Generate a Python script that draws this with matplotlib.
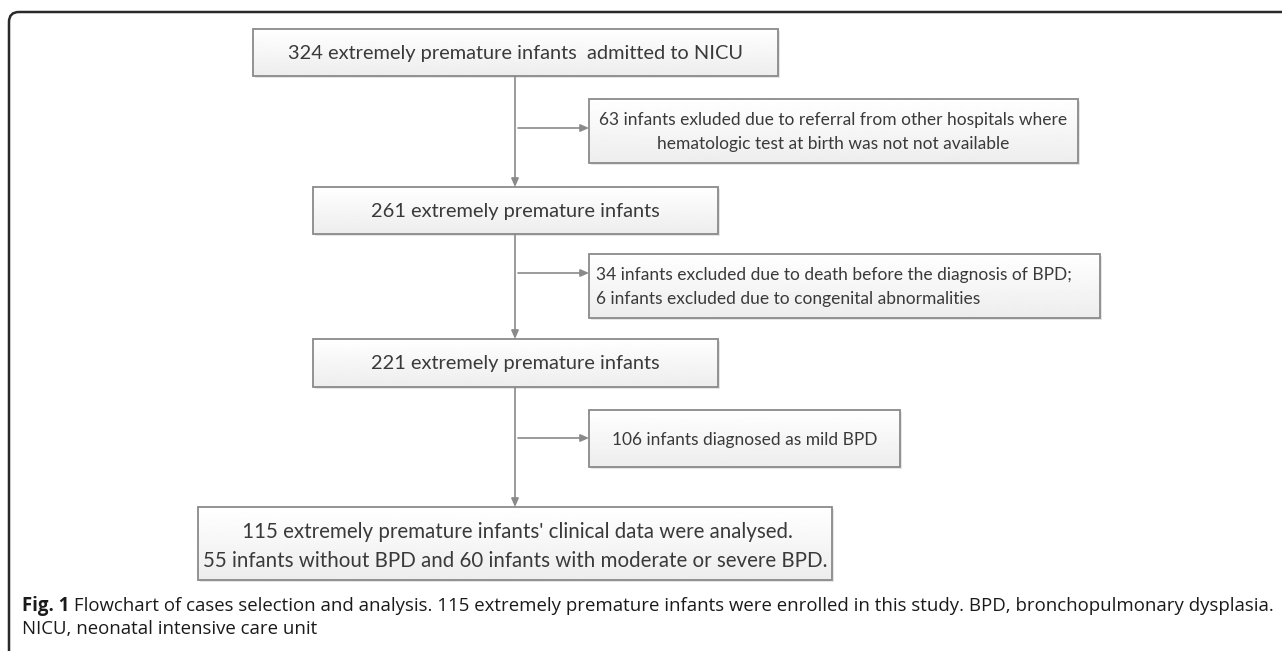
import numpy as np
import matplotlib
matplotlib.use('Agg')
import matplotlib.pyplot as plt
from matplotlib.patches import Rectangle, FancyBboxPatch

# flowchart texts
main_labels = ['324 extremely premature infants  admitted to NICU',
               '261 extremely premature infants',
               '221 extremely premature infants']
side_labels = ['63 infants exluded due to referral from other hospitals where\nhematologic test at birth was not not available',
               '34 infants excluded due to death before the diagnosis of BPD;\n6 infants excluded due to congenital abnormalities',
               '106 infants diagnosed as mild BPD']
side_align = ['center', 'left', 'center']
final_label = (" 115 extremely premature infants' clinical data were analysed.\n"
               "55 infants without BPD and 60 infants with moderate or severe BPD.")
caption_bold = 'Fig. 1'
caption_rest = (' Flowchart of cases selection and analysis. 115 extremely premature infants were '
                'enrolled in this study. BPD, bronchopulmonary dysplasia.')
caption_line2 = 'NICU, neonatal intensive care unit'

# layout in pixels (x0, x1, y0, y1)
main_boxes = [(253, 778, 29, 76), (313, 718, 187, 234), (313, 718, 339, 387)]
side_boxes = [(589, 1078, 99, 163), (589, 1100, 254, 318), (589, 900, 410, 467)]
side_arrow_y = [128, 273, 438]
final_box = (198, 832, 507, 580)
xc = 515

W, H = 1282, 651
fig = plt.figure(figsize=(W / 100, H / 100), dpi=100)
ax = fig.add_axes([0, 0, 1, 1])
ax.set_xlim(0, W)
ax.set_ylim(H, 0)
ax.axis('off')

edge = '#8a8a8a'
txt = '#3a3a3a'
font = 'Lato'

grad = np.linspace(1.0, 0.93, 64).reshape(-1, 1)


def box(b):
    x0, x1, y0, y1 = b
    ax.add_patch(Rectangle((x0 + 2, y0 + 2), x1 - x0, y1 - y0, fc='#e6e6e6', ec='none', zorder=1))
    im = ax.imshow(grad, extent=(x0, x1, y1, y0), cmap='gray', vmin=0, vmax=1,
                   aspect='auto', zorder=2, interpolation='bilinear')
    r = Rectangle((x0, y0), x1 - x0, y1 - y0, fc='none', ec=edge, lw=1.3, zorder=3)
    ax.add_patch(r)
    im.set_clip_path(r)


arrow_kw = dict(arrowstyle='-|>,head_length=0.5,head_width=0.22', color=edge, lw=1.2,
                shrinkA=0, shrinkB=0)

# main column
for i, b in enumerate(main_boxes):
    box(b)
    ax.text(xc, (b[2] + b[3]) / 2 + 1, main_labels[i], ha='center', va='center',
            fontsize=14.4, color=txt, family=font, zorder=4)
for i in range(len(main_boxes)):
    y_start = main_boxes[i][3]
    y_end = main_boxes[i + 1][2] if i + 1 < len(main_boxes) else final_box[2]
    ax.annotate('', xy=(xc, y_end), xytext=(xc, y_start), arrowprops=arrow_kw, zorder=2)

# side boxes
for i, b in enumerate(side_boxes):
    box(b)
    ya = side_arrow_y[i]
    ax.annotate('', xy=(b[0], ya), xytext=(xc + 3, ya), arrowprops=arrow_kw, zorder=2)
    yc = (b[2] + b[3]) / 2 + 1
    if side_align[i] == 'left':
        ax.text(b[0] + 7, yc, side_labels[i], ha='left', va='center', multialignment='left',
                fontsize=12.5, color=txt, family=font, linespacing=1.6, zorder=4)
    else:
        ax.text((b[0] + b[1]) / 2, yc, side_labels[i], ha='center', va='center',
                multialignment='center', fontsize=12.5, color=txt, family=font,
                linespacing=1.6, zorder=4)

# final box
box(final_box)
ax.text((final_box[0] + final_box[1]) / 2, (final_box[2] + final_box[3]) / 2 + 3, final_label,
        ha='center', va='center', multialignment='center', fontsize=14.8, color=txt,
        family=font, linespacing=1.58, zorder=4)

# outer frame
ax.add_patch(FancyBboxPatch((9, 12), 1400, 800, boxstyle='round,pad=0,rounding_size=10',
                            fc='none', ec='#2a2a2a', lw=1.8, zorder=5))

# caption
fig.canvas.draw()
r = fig.canvas.get_renderer()
cap_size = 13.4
t = ax.text(22, 606, caption_bold, ha='left', va='center', fontsize=cap_size, weight='bold',
            family='Open Sans', color='#1a1a1a')
bb = t.get_window_extent(r)
x_next = ax.transData.inverted().transform((bb.x1, bb.y0))[0]
ax.text(x_next, 606, caption_rest, ha='left', va='center', fontsize=cap_size,
        family='Open Sans', color='#1a1a1a')
ax.text(22, 629, caption_line2, ha='left', va='center', fontsize=cap_size,
        family='Open Sans', color='#1a1a1a')

fig.savefig('out.png', dpi=100)
